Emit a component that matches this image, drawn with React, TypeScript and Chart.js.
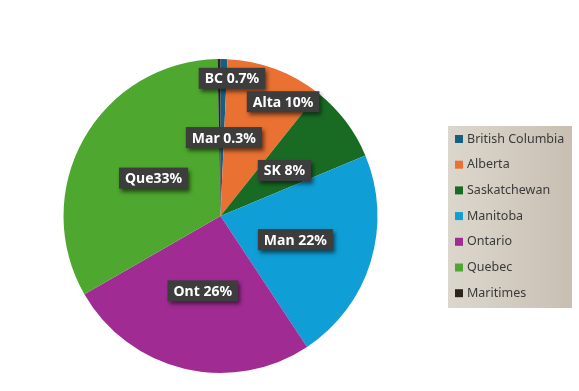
import React, { useEffect, useRef } from "react";
import { Chart, registerables } from "chart.js";

Chart.register(...registerables);

const provinces = ["British Columbia", "Alberta", "Saskatchewan", "Manitoba", "Ontario", "Quebec", "Maritimes"];
const shares = [0.7, 10, 8, 22, 26, 33, 0.3];
const labelPrefixes = ["BC ", "Alta ", "SK ", "Man ", "Ont ", "Que", "Mar "];
const sliceColors = ["#156082", "#E97132", "#196B24", "#0F9ED5", "#A02B93", "#4EA72E", "#2B241C"];
// label placement: fraction of radius and angle shift (degrees) from slice middle
const labelRadiusFrac = [0.88, 0.83, 0.5, 0.5, 0.49, 0.49, 0.5];
const labelAngleShift = [3.5, 8.2, 1.6, 0.6, 0, 0, 3];

const labelPlugin = {
  id: "boxLabels",
  afterDatasetsDraw(chart: any) {
    const ctx = chart.ctx;
    const meta = chart.getDatasetMeta(0);
    ctx.save();
    ctx.font = "bold 14px 'Noto Sans', sans-serif";
    ctx.textAlign = "center";
    ctx.textBaseline = "middle";
    meta.data.forEach((arc: any, i: number) => {
      const { x, y, startAngle, endAngle, outerRadius } = arc.getProps(["x", "y", "startAngle", "endAngle", "outerRadius"], true);
      const mid = (startAngle + endAngle) / 2 + (labelAngleShift[i] * Math.PI) / 180;
      const r = outerRadius * labelRadiusFrac[i];
      const lx = x + Math.cos(mid) * r;
      const ly = y + Math.sin(mid) * r;
      const text = `${labelPrefixes[i]}${shares[i]}%`;
      const w = ctx.measureText(text).width + 12;
      const h = 21;
      ctx.save();
      ctx.shadowColor = "rgba(0,0,0,0.55)";
      ctx.shadowBlur = 4;
      ctx.shadowOffsetX = 2;
      ctx.shadowOffsetY = 3;
      ctx.fillStyle = "#3d3d3d";
      ctx.fillRect(lx - w / 2, ly - h / 2, w, h);
      ctx.restore();
      ctx.fillStyle = "#ffffff";
      ctx.fillText(text, lx, ly + 1);
    });
    ctx.restore();
  },
};

const legendPlugin = {
  id: "boxLegend",
  afterDraw(chart: any) {
    const ctx = chart.ctx;
    const left = 448, top = 126, width = 124, height = 182;
    ctx.save();
    const g = ctx.createLinearGradient(left, 0, left + width, 0);
    g.addColorStop(0, "#dcd7cd");
    g.addColorStop(1, "#c8bfb2");
    ctx.fillStyle = g;
    ctx.fillRect(left, top, width, height);
    ctx.font = "12.5px 'Noto Sans', sans-serif";
    ctx.textBaseline = "middle";
    ctx.textAlign = "left";
    const labels = chart.data.labels as string[];
    const colors = chart.data.datasets[0].backgroundColor as string[];
    const step = 25.7;
    labels.forEach((lab: string, i: number) => {
      const cy = top + 13 + i * step;
      ctx.fillStyle = colors[i];
      ctx.fillRect(left + 7, cy - 4, 8, 8);
      ctx.fillStyle = "#3a3a3a";
      ctx.fillText(lab, left + 19, cy);
    });
    ctx.restore();
  },
};

export default function App() {
  const ref = useRef<HTMLCanvasElement>(null);
  useEffect(() => {
    if (!ref.current) return;
    const chart = new Chart(ref.current, {
      type: "pie",
      data: {
        labels: provinces,
        datasets: [
          {
            data: shares,
            backgroundColor: sliceColors,
            borderWidth: 0,
          },
        ],
      },
      options: {
        animation: false,
        responsive: true,
        maintainAspectRatio: false,
        layout: { padding: { left: 63, right: 201, top: 59, bottom: 18 } },
        plugins: {
          legend: { display: false },
          tooltip: { enabled: false },
        },
      },
      plugins: [labelPlugin, legendPlugin],
    });
    return () => chart.destroy();
  }, []);
  return (
    <div style={{ position: "fixed", left: 0, top: 0, width: 579, height: 391, background: "#ffffff" }}>
      <canvas ref={ref} />
    </div>
  );
}
